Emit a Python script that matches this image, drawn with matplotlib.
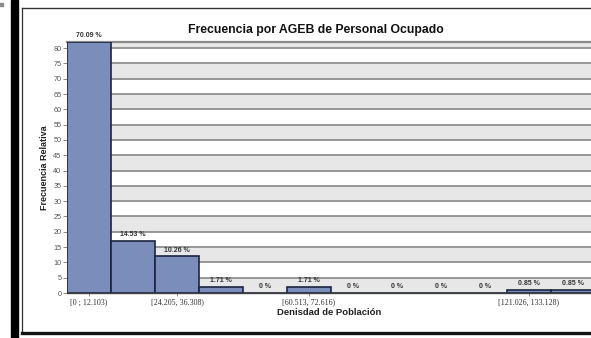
import matplotlib
matplotlib.use("Agg")
import matplotlib.pyplot as plt
from matplotlib.patches import Rectangle
from matplotlib.lines import Line2D

# Histogram of population density per AGEB (counts per bin)
bins = ["[0 ; 12.103)", "[12.103, 24.205)", "[24.205, 36.308)", "[36.308, 48.410)",
        "[48.410, 60.513)", "[60.513, 72.616)", "[72.616, 84.718)", "[84.718, 96.821)",
        "[96.821, 108.923)", "[108.923, 121.026)", "[121.026, 133.128)", "[133.128, 145.231)"]
counts = [82, 17, 12, 2, 0, 2, 0, 0, 0, 0, 1, 1]
shown_ticks = [0, 2, 5, 10]
y_ticks = list(range(0, 81, 5))

W, H = 591, 338
fig = plt.figure(figsize=(W / 100, H / 100), dpi=100)
fig.patch.set_facecolor("white")

def fx(px):
    return px / W

def fy(py):
    return 1 - py / H

# outer decoration
fig.patches.append(Rectangle((fx(11), 0), fx(7), 1, transform=fig.transFigure,
                             color="black", zorder=5))
fig.patches.append(Rectangle((0, fy(6)), fx(2.5), 3 / H, transform=fig.transFigure,
                             color="#8a8a8a", zorder=5))
fig.lines.append(Line2D([fx(22), fx(22)], [fy(8), fy(333)], transform=fig.transFigure,
                        color="#333333", lw=0.9))
fig.lines.append(Line2D([fx(22), 1], [fy(8), fy(8)], transform=fig.transFigure,
                        color="#333333", lw=1.0))
fig.lines.append(Line2D([fx(22), 1], [fy(333), fy(333)], transform=fig.transFigure,
                        color="#111111", lw=2.4))

left, right, top, bottom = 67, 591, 42, 293
ax = fig.add_axes([fx(left), fy(bottom), fx(right - left), (bottom - top) / H])
ax.set_facecolor("white")

ymax = 82
ax.set_ylim(0, ymax)
xright = -0.5 + (right - left) / 44.0
ax.set_xlim(-0.5, xright)

# alternating bands and gridlines
for k in range(0, 17):
    lo, hi = 5 * k, min(5 * k + 5, ymax)
    if k % 2 == 0:
        ax.axhspan(lo, hi, color="#e7e7e7", zorder=0, lw=0)
for v in y_ticks[1:]:
    ax.axhline(v, color="#8f8f8f", lw=1.3, zorder=1)

x = list(range(len(counts)))
ax.bar(x, counts, width=1.0, color="#7b8dbb", edgecolor="#1c2540", linewidth=1.2, zorder=3)

total = sum(counts)
for xi, c in zip(x, counts):
    pct = c / total * 100
    txt = "0 %" if c == 0 else f"{pct:.2f} %"
    ax.text(xi, c + 0.9, txt, ha="center", va="bottom", fontsize=5.0,
            fontweight="bold", color="#333333", family="Liberation Sans", zorder=4,
            clip_on=False)

for side in ["left", "right"]:
    ax.spines[side].set_visible(False)
ax.spines["top"].set_color("#8a8a8a")
ax.spines["top"].set_linewidth(1.6)
ax.spines["bottom"].set_color("#444444")
ax.spines["bottom"].set_linewidth(1.0)
ax.spines["bottom"].set_zorder(4)

ax.set_yticks(y_ticks)
ax.set_yticklabels([str(v) for v in y_ticks], fontsize=5.2, color="#555555",
                   family="Liberation Sans")
ax.tick_params(axis="y", length=3, width=0.6, color="#777777", pad=1)

ax.set_xticks(shown_ticks)
ax.set_xticklabels([bins[i] for i in shown_ticks], fontsize=5.8, color="#333333",
                   family="Liberation Serif")
ax.tick_params(axis="x", length=2, width=0.6, color="#777777", pad=2)

ax.set_xlabel("Denisdad de Población", fontsize=6.8, fontweight="bold",
              family="Liberation Sans", color="#222222", labelpad=1)
ax.set_ylabel("Frecuencia Relativa", fontsize=6.5, fontweight="bold",
              family="Liberation Sans", color="#222222", labelpad=3)

fig.text(fx(316), fy(30), "Frecuencia por AGEB de Personal Ocupado", ha="center",
         va="center", fontsize=8.8, fontweight="bold", family="Liberation Sans",
         color="#111111")

fig.savefig("out.png", dpi=100, facecolor="white")
